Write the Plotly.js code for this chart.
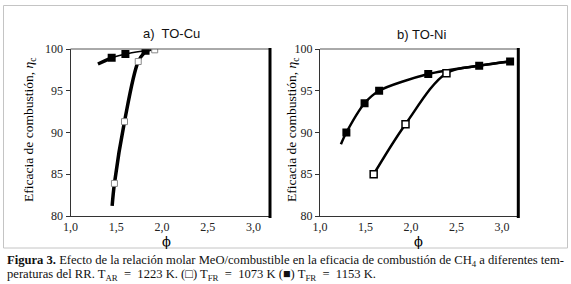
<!DOCTYPE html>
<html><head><meta charset="utf-8">
<script src="https://cdn.plot.ly/plotly-3.0.1.min.js"></script>
<style>html,body{margin:0;padding:0;background:#fff;}#chart{width:571px;height:284px;}</style>
</head><body><div id="chart"></div>
<script>
// Panel a) TO-Cu
const cuOpenPhi = [1.48, 1.59, 1.74, 1.92];
const cuOpenEta = [83.9, 91.3, 98.5, 99.9];
const cuOpenCurvePhi = [1.455, 1.48, 1.59, 1.74, 1.81];
const cuOpenCurveEta = [81.2, 83.9, 91.3, 98.5, 99.6];
const cuOpenTailPhi = [1.81, 1.92];
const cuOpenTailEta = [99.6, 99.95];
const cuFillPhi = [1.45, 1.60, 1.82];
const cuFillEta = [98.95, 99.4, 99.8];
const cuFillStartPhi = [1.30, 1.38, 1.45];
const cuFillStartEta = [98.2, 98.6, 98.95];
const cuFillCurvePhi = [1.45, 1.60, 1.82, 1.88];
const cuFillCurveEta = [98.95, 99.4, 99.8, 99.9];
// Panel b) TO-Ni
const niOpenPhi = [1.59, 1.94, 2.39];
const niOpenEta = [85.0, 91.0, 97.1];
const niOpenCurvePhi = [1.59, 1.94, 2.39, 2.75, 3.09];
const niOpenCurveEta = [85.0, 91.0, 97.1, 98.0, 98.5];
const niFillPhi = [1.29, 1.49, 1.65, 2.19, 2.75, 3.09];
const niFillEta = [90.0, 93.5, 95.0, 97.0, 98.0, 98.5];
const niFillCurvePhi = [1.23, 1.29, 1.49, 1.65, 2.19, 2.75, 3.09];
const niFillCurveEta = [88.6, 90.0, 93.5, 95.0, 97.0, 98.0, 98.5];
const xTicks = [1.0, 1.5, 2.0, 2.5, 3.0];
const xTickText = ['1,0', '1,5', '2,0', '2,5', '3,0'];
const yTicks = [80, 85, 90, 95, 100];
const panelTitles = ['a)  TO-Cu', 'b) TO-Ni'];
const yTitle = 'Eficacia de combustión, <i>η</i><sub>c</sub>';
const xTitle = 'ϕ';
const caption1 = '<b>Figura 3.</b> Efecto de la relación molar MeO/combustible en la eficacia de combustión de CH<sub>4</sub> a diferentes tem-';
const caption2 = 'peraturas del RR. T<sub>AR</sub> &nbsp;= &nbsp;1223 K. (□) T<sub>FR</sub> &nbsp;= &nbsp;1073 K (■) T<sub>FR</sub> &nbsp;= &nbsp;1153 K.';

const serif = 'Liberation Serif, Times New Roman, serif';
const W = 571, H = 284;
function px(x){return x/W;}
function py(y){return 1 - y/H;}

const traces = [
  {x: cuOpenCurvePhi, y: cuOpenCurveEta, mode:'lines', line:{color:'#000', width:3.5, shape:'spline'}, xaxis:'x', yaxis:'y', hoverinfo:'skip'},
  {x: cuOpenTailPhi, y: cuOpenTailEta, mode:'lines', line:{color:'#000', width:1}, xaxis:'x', yaxis:'y', hoverinfo:'skip'},
  {x: cuFillStartPhi, y: cuFillStartEta, mode:'lines', line:{color:'#000', width:3.5, shape:'spline'}, xaxis:'x', yaxis:'y', hoverinfo:'skip'},
  {x: cuFillCurvePhi, y: cuFillCurveEta, mode:'lines', line:{color:'#000', width:1.5, shape:'spline'}, xaxis:'x', yaxis:'y', hoverinfo:'skip'},
  {x: cuOpenPhi, y: cuOpenEta, mode:'markers', marker:{symbol:'square', size:6, color:'#fff', line:{color:'#888', width:1}}, xaxis:'x', yaxis:'y'},
  {x: cuFillPhi, y: cuFillEta, mode:'markers', marker:{symbol:'square', size:8, color:'#000'}, xaxis:'x', yaxis:'y'},

  {x: niOpenCurvePhi, y: niOpenCurveEta, mode:'lines', line:{color:'#000', width:2.5, shape:'spline', smoothing:1}, xaxis:'x2', yaxis:'y2', hoverinfo:'skip'},
  {x: niFillCurvePhi, y: niFillCurveEta, mode:'lines', line:{color:'#000', width:2.5, shape:'spline', smoothing:0.8}, xaxis:'x2', yaxis:'y2', hoverinfo:'skip'},
  {x: niOpenPhi, y: niOpenEta, mode:'markers', marker:{symbol:'square', size:7, color:'#fff', line:{color:'#000', width:1.5}}, xaxis:'x2', yaxis:'y2'},
  {x: niFillPhi, y: niFillEta, mode:'markers', marker:{symbol:'square', size:8, color:'#000'}, xaxis:'x2', yaxis:'y2'}
];

function xax(dom, anchor){
  return {domain: dom, range:[1, 3.18], anchor: anchor, tickvals: xTicks, ticktext: xTickText,
    showgrid:false, zeroline:false, showline:true, linecolor:'#333', linewidth:1, ticks:'', mirror:false,
    tickfont:{family:serif, size:12, color:'#222'}, fixedrange:true};
}
function yax(dom, anchor){
  return {domain: dom, range:[80, 100], anchor: anchor, tickvals: yTicks,
    showgrid:false, zeroline:false, showline:true, linecolor:'#333', linewidth:1, ticks:'outside', ticklen:4, tickcolor:'#333',
    tickfont:{family:serif, size:12, color:'#222'}, fixedrange:true};
}
function ann(text, x, y, font, extra){
  return Object.assign({text: text, xref:'paper', yref:'paper', x:px(x), y:py(y), xanchor:'center', yanchor:'middle', showarrow:false, font:font}, extra||{});
}
const yDom = [py(216), py(49)];
const sansFont = {family:'Liberation Sans, Arial, sans-serif', size:13, color:'#111'};
const yTitleFont = {family:serif, size:13.5, color:'#000'};
const phiFont = {family:'DejaVu Serif, serif', size:13, color:'#000'};
const capFont = {family:serif, size:12.6, color:'#111'};
const layout = {
  width: W, height: H, margin:{l:0, r:0, t:0, b:0}, showlegend:false,
  paper_bgcolor:'#fff', plot_bgcolor:'#fff',
  xaxis: xax([px(70.5), px(270)], 'y'),
  yaxis: yax(yDom, 'x'),
  xaxis2: xax([px(320), px(518.3)], 'y2'),
  yaxis2: yax(yDom, 'x2'),
  shapes: [
    {type:'rect', xref:'paper', yref:'paper', x0:px(3.5), x1:px(567.5), y0:py(248), y1:py(5.5), line:{color:'#c4c4c4', width:1}},
    {type:'line', xref:'paper', yref:'paper', x0:px(70.5), x1:px(270), y0:py(49), y1:py(49), line:{color:'#555', width:1}},
    {type:'line', xref:'paper', yref:'paper', x0:px(320), x1:px(518.3), y0:py(49), y1:py(49), line:{color:'#555', width:1}},
    {type:'line', xref:'paper', yref:'paper', x0:px(270), x1:px(270), y0:py(218), y1:py(48), line:{color:'#000', width:3}},
    {type:'line', xref:'paper', yref:'paper', x0:px(518.3), x1:px(518.3), y0:py(218), y1:py(48), line:{color:'#000', width:3}}
  ],
  annotations: [
    ann(panelTitles[0], 172, 34, sansFont),
    ann(panelTitles[1], 421, 35, sansFont),
    ann(yTitle, 29, 130, yTitleFont, {textangle:-90}),
    ann(yTitle, 292, 130, yTitleFont, {textangle:-90}),
    ann(xTitle, 166, 241, phiFont),
    ann(xTitle, 418, 241, phiFont),
    ann(caption1, 5, 261, capFont, {xanchor:'left'}),
    ann(caption2, 5, 275, capFont, {xanchor:'left'})
  ]
};
Plotly.newPlot('chart', traces, layout, {displayModeBar:false, staticPlot:true});
</script></body></html>
